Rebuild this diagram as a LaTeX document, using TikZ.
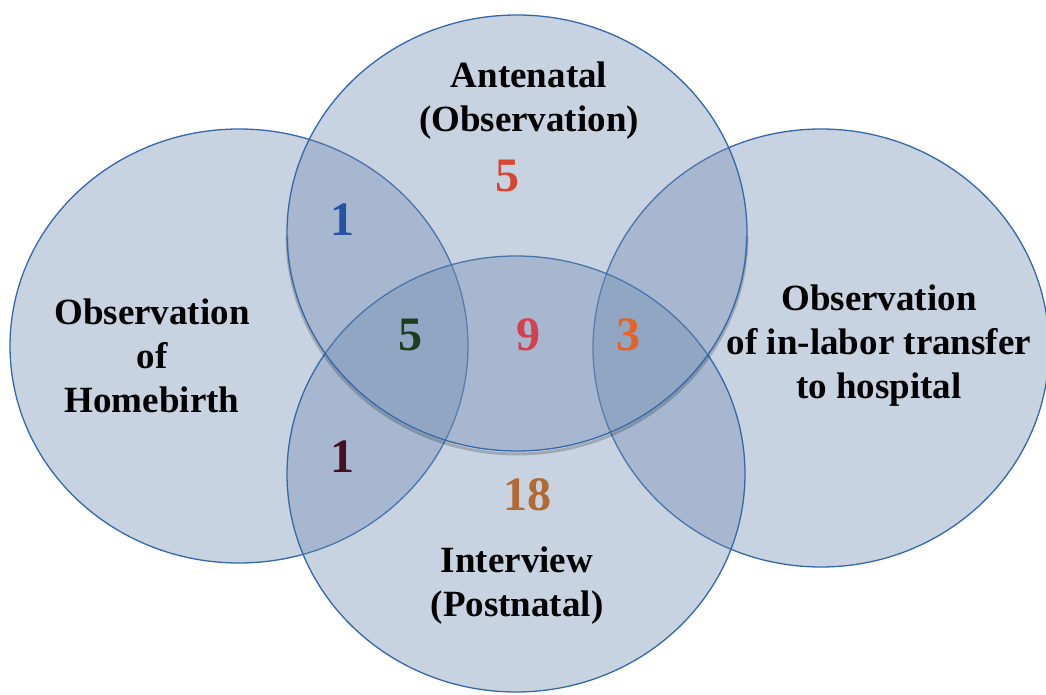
\documentclass[tikz,border=0pt]{standalone}
\usepackage{fontspec}
\setmainfont{Liberation Serif}
\definecolor{vfill}{RGB}{112,140,178}
\definecolor{vline}{RGB}{52,104,168}
\definecolor{nblue}{RGB}{40,80,165}
\definecolor{nred}{RGB}{214,70,50}
\definecolor{ngreen}{RGB}{28,62,30}
\definecolor{ncrim}{RGB}{212,64,78}
\definecolor{norange}{RGB}{228,100,40}
\definecolor{nmaroon}{RGB}{66,18,32}
\definecolor{nbrown}{RGB}{178,106,52}
\tikzset{
  setc/.style={fill=vfill, fill opacity=0.38, draw=vline, draw opacity=1, line width=1.3pt},
  lbl/.style={font=\bfseries\fontsize{37}{44}\selectfont, align=center, text=black, inner sep=0pt},
  num/.style={font=\bfseries\fontsize{48}{52}\selectfont, inner sep=0pt},
}
\begin{document}
\begin{tikzpicture}[x=1pt,y=1pt]
\useasboundingbox (0,0) rectangle (1046,695);
\fill[white] (0,0) rectangle (1046,695);
% circles (image y -> 695 - y)
\draw[setc] (239,349) ellipse [x radius=229pt, y radius=217pt];
\draw[setc] (821,347) ellipse [x radius=228pt, y radius=219pt];
\draw[setc] (516,221) ellipse [x radius=229pt, y radius=218pt];
\draw[black, opacity=0.2, line width=3pt] (517,459) ++(-230,0) arc[start angle=180, end angle=360, x radius=230pt, y radius=218pt];
\draw[setc] (517,462) ellipse [x radius=230pt, y radius=218pt];
% labels
\node[lbl] (home) at (152,339) {Observation\\of\\Homebirth};
\node[lbl] (ante) at (529,594) {Antenatal\\(Observation)};
\node[lbl] (trans) at (879,349) {Observation\\of in-labor transfer\\to hospital};
\node[lbl] (inter) at (517,109) {Interview\\(Postnatal)};
% numbers
\node[num, text=nred] (n5a) at (507,519) {5};
\node[num, text=nblue] (n1a) at (342,475) {1};
\node[num, text=ngreen] (n5b) at (410,360) {5};
\node[num, text=ncrim] (n9) at (528,360) {9};
\node[num, text=norange] (n3) at (628,360) {3};
\node[num, text=nmaroon] (n1b) at (342,238) {1};
\node[num, text=nbrown] (n18) at (527,200) {18};
\end{tikzpicture}
\end{document}
